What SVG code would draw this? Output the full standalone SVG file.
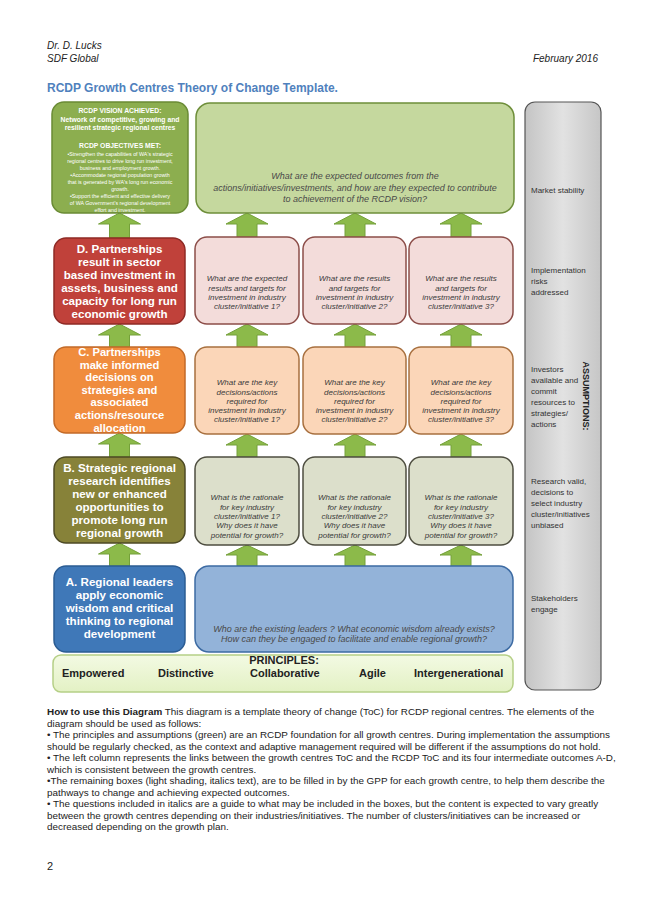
<svg xmlns="http://www.w3.org/2000/svg" width="653" height="923" viewBox="0 0 653 923">
<style>
text{font-family:"Liberation Sans",Arial,sans-serif}
.hdr{font-size:10px;font-style:italic;fill:#222}
.lead{font-size:11.6px;font-weight:bold;fill:#fff;text-anchor:middle}
.leadc{font-size:11.2px;font-weight:bold;fill:#fff;text-anchor:middle}
.q{font-size:8px;font-style:italic;fill:#3a3a3a;text-anchor:middle}
.qb{font-size:9px;font-style:italic;fill:#4a4a4a;text-anchor:middle}
.as{font-size:8px;fill:#333}
.pr{font-size:11px;font-weight:bold;fill:#222}
.body{font-size:9.9px;fill:#222}
.arrow{fill:#8CBA4A;stroke:#74A03A;stroke-width:1}
.vis{font-size:6.8px;font-weight:bold;fill:#fff;text-anchor:middle}
.vis2{font-size:5.3px;fill:#fff;text-anchor:middle}
</style>
<defs>
<linearGradient id="gAss" x1="0" y1="0" x2="1" y2="0">
<stop offset="0" stop-color="#C4C4C4"/>
<stop offset="0.5" stop-color="#E2E2E2"/>
<stop offset="1" stop-color="#C6C6C6"/>
</linearGradient>
<linearGradient id="gPr" x1="0" y1="0" x2="0" y2="1">
<stop offset="0" stop-color="#F3FAE3"/>
<stop offset="1" stop-color="#E3F1C4"/>
</linearGradient>
</defs>
<rect width="653" height="923" fill="#fff"/>
<g id="header">
<text class="hdr" x="47" y="49">Dr. D.  Lucks</text>
<text class="hdr" x="47" y="62">SDF Global</text>
<text class="hdr" x="598" y="62" text-anchor="end">February 2016</text>
<text x="47" y="92" font-size="12" font-weight="bold" fill="#4F81BD">RCDP Growth Centres Theory of Change Template.</text>
</g>
<g id="connectors">
<path class="arrow" d="M119.5 213 L140.5 224 L129.5 224 L129.5 238 L109.5 238 L109.5 224 L98.5 224 Z"/>
<path class="arrow" d="M247 213 L268 224 L257 224 L257 237 L237 237 L237 224 L226 224 Z"/>
<path class="arrow" d="M355 213 L376 224 L365 224 L365 237 L345 237 L345 224 L334 224 Z"/>
<path class="arrow" d="M461 213 L482 224 L471 224 L471 237 L451 237 L451 224 L440 224 Z"/>
<path class="arrow" d="M119.5 324 L140.5 335 L129.5 335 L129.5 347 L109.5 347 L109.5 335 L98.5 335 Z"/>
<path class="arrow" d="M247 324 L268 335 L257 335 L257 347 L237 347 L237 335 L226 335 Z"/>
<path class="arrow" d="M355 324 L376 335 L365 335 L365 347 L345 347 L345 335 L334 335 Z"/>
<path class="arrow" d="M461 324 L482 335 L471 335 L471 347 L451 347 L451 335 L440 335 Z"/>
<path class="arrow" d="M119.5 433 L140.5 444 L129.5 444 L129.5 457 L109.5 457 L109.5 444 L98.5 444 Z"/>
<path class="arrow" d="M247 434 L268 445 L257 445 L257 457 L237 457 L237 445 L226 445 Z"/>
<path class="arrow" d="M355 434 L376 445 L365 445 L365 457 L345 457 L345 445 L334 445 Z"/>
<path class="arrow" d="M461 434 L482 445 L471 445 L471 457 L451 457 L451 445 L440 445 Z"/>
<path class="arrow" d="M119.5 543 L140.5 554 L129.5 554 L129.5 566 L109.5 566 L109.5 554 L98.5 554 Z"/>
<path class="arrow" d="M247 545 L268 555 L257 555 L257 566 L237 566 L237 555 L226 555 Z"/>
<path class="arrow" d="M355 545 L376 555 L365 555 L365 566 L345 566 L345 555 L334 555 Z"/>
<path class="arrow" d="M461 545 L482 555 L471 555 L471 566 L451 566 L451 555 L440 555 Z"/>
</g>
<g id="vision">
<rect x="52" y="102" width="136" height="111" rx="12" fill="#8CAE4F" stroke="#6A8B35" stroke-width="1.5"/>
<text class="vis" x="120" y="113">RCDP VISION ACHIEVED:</text>
<text class="vis" x="120" y="121.5" font-size="6.3">Network of competitive, growing and</text>
<text class="vis" x="120" y="129.5" font-size="6.3">resilient strategic regional centres</text>
<text class="vis" x="120" y="148" font-size="7.2">RCDP OBJECTIVES MET:</text>
<text class="vis2" x="120" y="156">•Strengthen the capabilities of WA's strategic</text>
<text class="vis2" x="120" y="163">regional centres to drive long run investment,</text>
<text class="vis2" x="120" y="170">business and employment growth.</text>
<text class="vis2" x="120" y="177">•Accommodate regional population growth</text>
<text class="vis2" x="120" y="184">that is generated by WA's long run economic</text>
<text class="vis2" x="120" y="191">growth.</text>
<text class="vis2" x="120" y="198">•Support the efficient and effective delivery</text>
<text class="vis2" x="120" y="205">of WA Government's regional development</text>
<text class="vis2" x="120" y="212">effort and investment.</text>
</g>
<g id="outcomes">
<rect x="196" y="103" width="318" height="110" rx="14" fill="#C5D89E" stroke="#6E8E3A" stroke-width="1.5"/>
<text class="qb" x="355" y="179">What are the expected outcomes from the</text>
<text class="qb" x="355" y="191">actions/initiatives/investments, and how are they expected to contribute</text>
<text class="qb" x="355" y="202">to achievement of the RCDP vision?</text>
</g>
<g id="outcomeD">
<rect x="54" y="238" width="131" height="86" rx="12" fill="#C0413A" stroke="#8E2A25" stroke-width="1.5"/>
<text class="lead" x="119.5" y="253">D. Partnerships</text>
<text class="lead" x="119.5" y="266">result in sector</text>
<text class="lead" x="119.5" y="279">based investment in</text>
<text class="lead" x="119.5" y="292">assets, business and</text>
<text class="lead" x="119.5" y="305">capacity for long run</text>
<text class="lead" x="119.5" y="318">economic growth</text>
</g>
<g id="d1">
<rect x="195" y="237" width="104" height="87" rx="12" fill="#F3DCDA" stroke="#8C4D48" stroke-width="1.5"/>
<text class="q" x="247" y="281">What are the expected</text>
<text class="q" x="247" y="290.5">results and targets for</text>
<text class="q" x="247" y="300">investment in industry</text>
<text class="q" x="247" y="309">cluster/initiative 1?</text>
</g>
<g id="d2">
<rect x="303" y="237" width="103" height="87" rx="12" fill="#F3DCDA" stroke="#8C4D48" stroke-width="1.5"/>
<text class="q" x="354.5" y="281">What are the results</text>
<text class="q" x="354.5" y="290.5">and targets for</text>
<text class="q" x="354.5" y="300">investment in industry</text>
<text class="q" x="354.5" y="309">cluster/initiative 2?</text>
</g>
<g id="d3">
<rect x="409" y="237" width="104" height="87" rx="12" fill="#F3DCDA" stroke="#8C4D48" stroke-width="1.5"/>
<text class="q" x="461" y="281">What are the results</text>
<text class="q" x="461" y="290.5">and targets for</text>
<text class="q" x="461" y="300">investment in industry</text>
<text class="q" x="461" y="309">cluster/initiative 3?</text>
</g>
<g id="outcomeC">
<rect x="54" y="347" width="131" height="86" rx="12" fill="#F08C3D" stroke="#C26A28" stroke-width="1.5"/>
<text class="leadc" x="119.5" y="356">C. Partnerships</text>
<text class="leadc" x="119.5" y="368.6">make informed</text>
<text class="leadc" x="119.5" y="381.2">decisions on</text>
<text class="leadc" x="119.5" y="393.8">strategies and</text>
<text class="leadc" x="119.5" y="406.4">associated</text>
<text class="leadc" x="119.5" y="419">actions/resource</text>
<text class="leadc" x="119.5" y="431.6">allocation</text>
</g>
<g id="c1">
<rect x="195" y="347" width="104" height="87" rx="12" fill="#FBD6B8" stroke="#A8703F" stroke-width="1.5"/>
<text class="q" x="247" y="385">What are the key</text>
<text class="q" x="247" y="394.5">decisions/actions</text>
<text class="q" x="247" y="404">required for</text>
<text class="q" x="247" y="413">investment in industry</text>
<text class="q" x="247" y="422">cluster/initiative 1?</text>
</g>
<g id="c2">
<rect x="303" y="347" width="103" height="87" rx="12" fill="#FBD6B8" stroke="#A8703F" stroke-width="1.5"/>
<text class="q" x="354.5" y="385">What are the key</text>
<text class="q" x="354.5" y="394.5">decisions/actions</text>
<text class="q" x="354.5" y="404">required for</text>
<text class="q" x="354.5" y="413">investment in industry</text>
<text class="q" x="354.5" y="422">cluster/initiative 2?</text>
</g>
<g id="c3">
<rect x="409" y="347" width="104" height="87" rx="12" fill="#FBD6B8" stroke="#A8703F" stroke-width="1.5"/>
<text class="q" x="461" y="385">What are the key</text>
<text class="q" x="461" y="394.5">decisions/actions</text>
<text class="q" x="461" y="404">required for</text>
<text class="q" x="461" y="413">investment in industry</text>
<text class="q" x="461" y="422">cluster/initiative 3?</text>
</g>
<g id="outcomeB">
<rect x="54" y="457" width="131" height="86" rx="12" fill="#878239" stroke="#4D4A25" stroke-width="1.5"/>
<text class="lead" x="119.5" y="471.5">B. Strategic regional</text>
<text class="lead" x="119.5" y="484.5">research identifies</text>
<text class="lead" x="119.5" y="497.5">new or enhanced</text>
<text class="lead" x="119.5" y="510.5">opportunities to</text>
<text class="lead" x="119.5" y="523.5">promote long run</text>
<text class="lead" x="119.5" y="536.5">regional growth</text>
</g>
<g id="b1">
<rect x="195" y="457" width="104" height="88" rx="12" fill="#DCDFCB" stroke="#4E4E40" stroke-width="1.5"/>
<text class="q" x="247" y="500">What is the rationale</text>
<text class="q" x="247" y="509.5">for key industry</text>
<text class="q" x="247" y="519">cluster/initiative 1?</text>
<text class="q" x="247" y="528">Why does it have</text>
<text class="q" x="247" y="538">potential for growth?</text>
</g>
<g id="b2">
<rect x="303" y="457" width="103" height="88" rx="12" fill="#DCDFCB" stroke="#4E4E40" stroke-width="1.5"/>
<text class="q" x="354.5" y="500">What is the rationale</text>
<text class="q" x="354.5" y="509.5">for key industry</text>
<text class="q" x="354.5" y="519">cluster/initiative 2?</text>
<text class="q" x="354.5" y="528">Why does it have</text>
<text class="q" x="354.5" y="538">potential for growth?</text>
</g>
<g id="b3">
<rect x="409" y="457" width="104" height="88" rx="12" fill="#DCDFCB" stroke="#4E4E40" stroke-width="1.5"/>
<text class="q" x="461" y="500">What is the rationale</text>
<text class="q" x="461" y="509.5">for key industry</text>
<text class="q" x="461" y="519">cluster/initiative 3?</text>
<text class="q" x="461" y="528">Why does it have</text>
<text class="q" x="461" y="538">potential for growth?</text>
</g>
<g id="outcomeA">
<rect x="54" y="566" width="131" height="86" rx="12" fill="#3F78B8" stroke="#2B5C93" stroke-width="1.5"/>
<text class="lead" x="119.5" y="586">A. Regional leaders</text>
<text class="lead" x="119.5" y="599">apply economic</text>
<text class="lead" x="119.5" y="612">wisdom and critical</text>
<text class="lead" x="119.5" y="625">thinking to regional</text>
<text class="lead" x="119.5" y="638">development</text>
</g>
<g id="leaders">
<rect x="195" y="566" width="318" height="86" rx="14" fill="#93B3D9" stroke="#3D6BA3" stroke-width="1.5"/>
<text class="qb" x="354" y="632" fill="#46556B">Who are the existing leaders ? What economic wisdom already exists?</text>
<text class="qb" x="354" y="642" fill="#46556B">How  can they be engaged to facilitate and enable regional growth?</text>
</g>
<g id="principles">
<rect x="53" y="655" width="460" height="37" rx="8" fill="url(#gPr)" stroke="#B5CF86" stroke-width="1.5"/>
<text class="pr" x="284" y="664" text-anchor="middle">PRINCIPLES:</text>
<text class="pr" x="62" y="677">Empowered</text>
<text class="pr" x="158" y="677">Distinctive</text>
<text class="pr" x="250" y="677">Collaborative</text>
<text class="pr" x="359" y="677">Agile</text>
<text class="pr" x="414" y="677">Intergenerational</text>
</g>
<g id="assumptions">
<rect x="525" y="102" width="76" height="588" rx="10" fill="url(#gAss)" stroke="#555" stroke-width="1.2"/>
<text class="as" x="531" y="193">Market stability</text>
<text class="as" x="531" y="273">Implementation</text>
<text class="as" x="531" y="284">risks</text>
<text class="as" x="531" y="295">addressed</text>
<text class="as" x="531" y="372">Investors</text>
<text class="as" x="531" y="383">available and</text>
<text class="as" x="531" y="394">commit</text>
<text class="as" x="531" y="405">resources to</text>
<text class="as" x="531" y="416">strategies/</text>
<text class="as" x="531" y="427">actions</text>
<text class="as" x="531" y="484">Research valid,</text>
<text class="as" x="531" y="495">decisions  to</text>
<text class="as" x="531" y="506">select industry</text>
<text class="as" x="531" y="517">cluster/initiatives</text>
<text class="as" x="531" y="528">unbiased</text>
<text class="as" x="531" y="601">Stakeholders</text>
<text class="as" x="531" y="612">engage</text>
<text transform="translate(583,396) rotate(90)" text-anchor="middle" font-size="9" font-weight="bold" fill="#222">ASSUMPTIONS:</text>
</g>
<g id="notes">
<text class="body" x="47" y="715"><tspan font-weight="bold">How to use this Diagram</tspan>  This diagram is a template theory of change (ToC) for RCDP regional centres. The elements of the</text>
<text class="body" x="47" y="726.5">diagram should be used as follows:</text>
<text class="body" x="47" y="738">• The principles and assumptions (green) are an RCDP foundation for all growth centres. During implementation the assumptions</text>
<text class="body" x="47" y="749.5">should be regularly checked, as the context and adaptive management required will be different if the assumptions do not hold.</text>
<text class="body" x="47" y="761">• The left column represents the links between the growth centres ToC and the RCDP ToC and its four intermediate outcomes A-D,</text>
<text class="body" x="47" y="772.5">which is consistent between the growth centres.</text>
<text class="body" x="47" y="784">•The remaining boxes (light shading, italics text), are to be filled in by the GPP for each growth centre, to help them describe the</text>
<text class="body" x="47" y="795.5">pathways to change and achieving expected outcomes.</text>
<text class="body" x="47" y="807">• The questions included in italics are a guide to what may be included in the boxes, but the content is expected to vary greatly</text>
<text class="body" x="47" y="818.5">between the growth centres depending on their industries/initiatives.  The number of clusters/initiatives can be increased or</text>
<text class="body" x="47" y="830">decreased depending on the growth plan.</text>
<text x="47" y="870" font-size="11" fill="#222">2</text>
</g>
</svg>
